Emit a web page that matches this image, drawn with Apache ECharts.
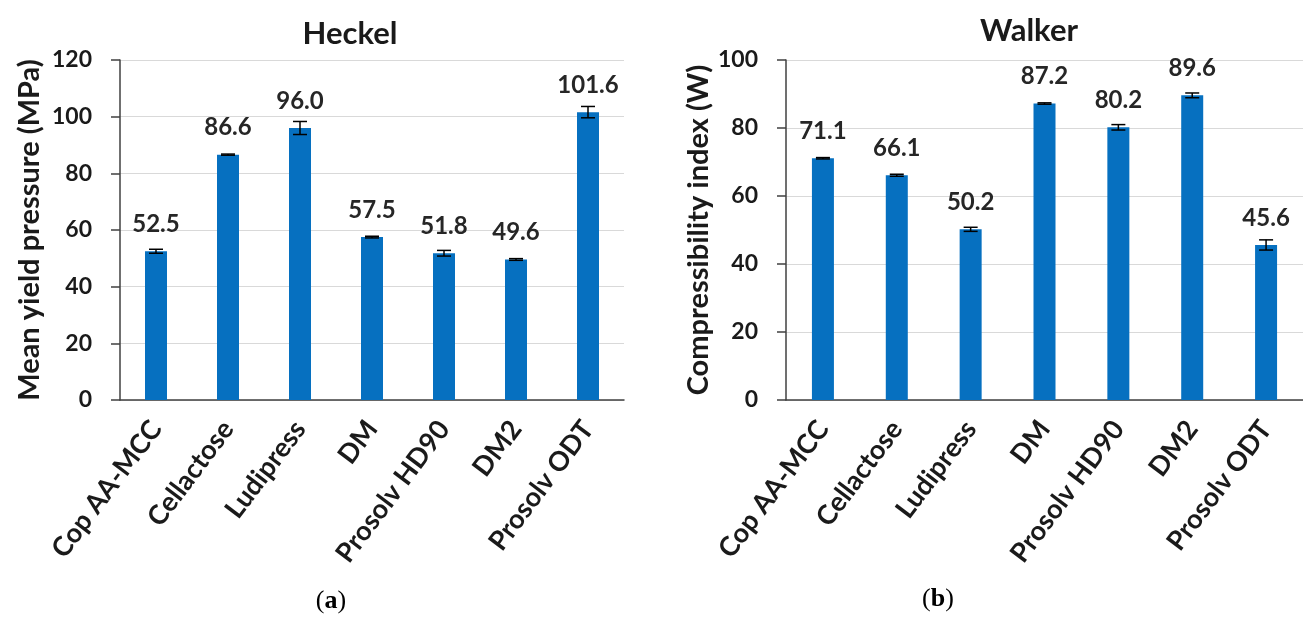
<!DOCTYPE html>
<html>
<head>
<meta charset="utf-8">
<script src="https://cdn.jsdelivr.net/npm/echarts@6/dist/echarts.min.js"></script>
<style>
html,body{margin:0;padding:0;background:#fff;}
#c{width:1303px;height:621px;}
</style>
</head>
<body>
<div id="c"></div>
<script>
const categories = ['Cop AA-MCC','Cellactose','Ludipress','DM','Prosolv HD90','DM2','Prosolv ODT'];
const heckelValues = [52.5, 86.6, 96.0, 57.5, 51.8, 49.6, 101.6];
const heckelErrors = [0.7, 0.2, 2.3, 0.3, 1.0, 0.3, 2.0];
const walkerValues = [71.1, 66.1, 50.2, 87.2, 80.2, 89.6, 45.6];
const walkerErrors = [0.2, 0.3, 0.6, 0.2, 0.8, 0.7, 1.5];
const heckelTicks = [0, 20, 40, 60, 80, 100, 120];
const walkerTicks = [0, 20, 40, 60, 80, 100];

const FONT = 'Lato';
const BLUE = '#0670C0';
const TXT = '#1a1a1a';

function errData(vals, errs){
  return vals.map((v,i)=>[i, v-errs[i], v+errs[i]]);
}
function errRender(params, api){
  const i = api.value(0);
  const lo = api.coord([i, api.value(1)]);
  const hi = api.coord([i, api.value(2)]);
  const hw = 7;
  const st = {stroke:'#000', lineWidth:1.5};
  return {type:'group', children:[
    {type:'line', shape:{x1:lo[0],y1:lo[1],x2:hi[0],y2:hi[1]}, style:st},
    {type:'line', shape:{x1:hi[0]-hw,y1:hi[1],x2:hi[0]+hw,y2:hi[1]}, style:st},
    {type:'line', shape:{x1:lo[0]-hw,y1:lo[1],x2:lo[0]+hw,y2:lo[1]}, style:st}
  ]};
}
function xAxisCfg(gi){
  return {
    type:'category', gridIndex:gi, data:categories,
    axisLine:{lineStyle:{color:'#404040', width:1.5}},
    axisTick:{show:false},
    axisLabel:{interval:0, rotate:53, margin:24, fontFamily:FONT, fontWeight:'bold', fontSize:27, color:TXT}
  };
}
function yAxisCfg(gi, ticks, name, gap){
  return {
    type:'value', gridIndex:gi, min:ticks[0], max:ticks[ticks.length-1], interval:ticks[1]-ticks[0],
    name:name, nameLocation:'middle', nameGap:gap,
    nameTextStyle:{fontFamily:FONT, fontWeight:'bold', fontSize:29, color:TXT},
    axisLine:{show:true, lineStyle:{color:'#404040', width:1.5}},
    axisTick:{show:true, inside:false, length:9, lineStyle:{color:'#404040', width:1.5}},
    axisLabel:{margin:28, fontFamily:FONT, fontWeight:'bold', fontSize:23, color:TXT},
    splitLine:{show:true, lineStyle:{color:'#d9d9d9', width:1}}
  };
}
function barSeries(gi, vals){
  return {
    type:'bar', xAxisIndex:gi, yAxisIndex:gi, data:vals, barWidth:22,
    itemStyle:{color:BLUE},
    label:{show:true, position:'top', distance:15, fontFamily:FONT, fontWeight:'bold', fontSize:24, color:'#262626',
      formatter:p=>p.value.toFixed(1)},
    z:2
  };
}
function errSeries(gi, vals, errs){
  return {type:'custom', xAxisIndex:gi, yAxisIndex:gi, data:errData(vals, errs), renderItem:errRender, z:5};
}
function capTitle(letter, x, y){
  return {text:'({b|' + letter + '})', left:x, top:y, textAlign:'center',
    textStyle:{fontFamily:'Liberation Serif', fontWeight:'normal', fontSize:26, color:'#000',
      rich:{b:{fontFamily:'Liberation Serif', fontWeight:'bold', fontSize:26, color:'#000'}}}};
}

const chart = echarts.init(document.getElementById('c'));
chart.setOption({
  backgroundColor:'#fff',
  animation:false,
  title:[
    {text:'Heckel', left:345, top:13, textAlign:'center', textStyle:{fontFamily:FONT, fontWeight:'bold', fontSize:31, color:TXT}},
    {text:'Walker', left:1024, top:10, textAlign:'center', textStyle:{fontFamily:FONT, fontWeight:'bold', fontSize:31, color:TXT}},
    capTitle('a', 326, 583),
    capTitle('b', 933, 581)
  ],
  grid:[
    {left:120, top:60, width:504, height:340},
    {left:786, top:60, width:528, height:340}
  ],
  xAxis:[xAxisCfg(0), xAxisCfg(1)],
  yAxis:[yAxisCfg(0, heckelTicks, 'Mean yield pressure (MPa)', 76), yAxisCfg(1, walkerTicks, 'Compressibility index (W)', 73)],
  series:[
    barSeries(0, heckelValues), errSeries(0, heckelValues, heckelErrors),
    barSeries(1, walkerValues), errSeries(1, walkerValues, walkerErrors)
  ]
});
</script>
</body>
</html>
